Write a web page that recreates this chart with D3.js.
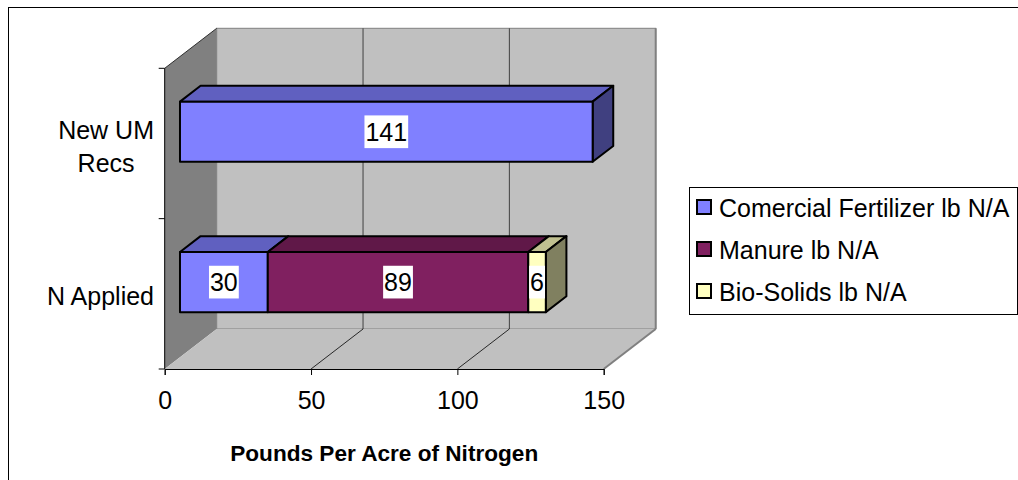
<!DOCTYPE html>
<html>
<head>
<meta charset="utf-8">
<script src="https://cdn.jsdelivr.net/npm/d3@7"></script>
<style>
  html, body { margin: 0; padding: 0; background: #fff; }
  svg { display: block; }
  text { font-family: "Liberation Sans", Arial, sans-serif; fill: #000; }
</style>
</head>
<body>
<svg id="chart" width="1018" height="480"></svg>
<script>
// Nitrogen applied vs. recommended, pounds per acre
const categories = ["New UM Recs", "N Applied"];
const categoryLines = [["New UM", "Recs"], ["N Applied"]];
const seriesNames = ["Comercial Fertilizer lb N/A", "Manure lb N/A", "Bio-Solids lb N/A"];
const fertilizer = [141, 30];
const manure = [0, 89];
const bioSolids = [0, 6];
const xTicks = [0, 50, 100, 150];
const axisTitle = "Pounds Per Acre of Nitrogen";

// front, top and side shades of each series
const frontColors = ["#8080FF", "#802060", "#FFFFC0"];
const topColors = ["#6060C0", "#601848", "#C0C090"];
const sideColors = ["#404080", "#401030", "#808060"];

const FONT = "25px";

const svg = d3.select("#chart");

// 3D geometry: front plane, and offset of the back plane
const DX = 52, DY = 40;
const front = { left: 164.7, right: 603.7, top: 68.3, bottom: 369 };
const dFront = 0.294, dBack = 0.69;   // depth extent of the bars

const x = d3.scaleLinear().domain([0, 150]).range([front.left, front.right]);
const y = d3.scaleBand().domain(categories).range([front.top, front.bottom]).padding(0);
const barH = y.bandwidth() * 0.4;

const pt = (px, py, d) => [px + DX * d, py - DY * d];
const poly = pts => pts.map(p => p.join(",")).join(" ");

// outer frame
svg.append("rect").attr("x", 8.5).attr("y", 7.5).attr("width", 1040).attr("height", 500)
  .attr("fill", "#fff").attr("stroke", "#000").attr("stroke-width", 1);

// back wall
svg.append("rect")
  .attr("x", front.left + DX).attr("y", front.top - DY)
  .attr("width", x(150) - x(0)).attr("height", front.bottom - front.top)
  .attr("fill", "#C0C0C0").attr("stroke", "#808080").attr("stroke-width", 1);
svg.append("line")
  .attr("x1", x(150) + DX).attr("x2", x(150) + DX)
  .attr("y1", front.top - DY).attr("y2", front.bottom - DY)
  .attr("stroke", "#808080").attr("stroke-width", 2);

// left wall
svg.append("polygon")
  .attr("points", poly([[front.left, front.top], pt(front.left, front.top, 1),
                        pt(front.left, front.bottom, 1), [front.left, front.bottom]]))
  .attr("fill", "#808080");
svg.append("line")
  .attr("x1", front.left).attr("y1", front.top)
  .attr("x2", front.left + DX).attr("y2", front.top - DY)
  .attr("stroke", "#303030").attr("stroke-width", 1);

// floor
svg.append("polygon")
  .attr("points", poly([[x(0), front.bottom], [x(150), front.bottom],
                        pt(x(150), front.bottom, 1), pt(x(0), front.bottom, 1)]))
  .attr("fill", "#C0C0C0");
svg.append("line")
  .attr("x1", x(150)).attr("y1", front.bottom)
  .attr("x2", x(150) + DX).attr("y2", front.bottom - DY)
  .attr("stroke", "#808080").attr("stroke-width", 2);

// gridlines on the back wall and the floor
const inner = xTicks.filter(t => t > 0 && t < 150);
svg.selectAll("line.gridWall").data(inner).join("line")
  .attr("class", "gridWall")
  .attr("x1", d => x(d) + DX).attr("x2", d => x(d) + DX)
  .attr("y1", front.top - DY).attr("y2", front.bottom - DY)
  .attr("stroke", "#404040").attr("stroke-width", 1);
svg.selectAll("line.gridFloor").data(inner).join("line")
  .attr("class", "gridFloor")
  .attr("x1", d => x(d)).attr("y1", front.bottom)
  .attr("x2", d => x(d) + DX).attr("y2", front.bottom - DY)
  .attr("stroke", "#000").attr("stroke-width", 0.8);

// axes
const xAxis = svg.append("g").attr("transform", `translate(0,${front.bottom})`)
  .call(d3.axisBottom(x).tickValues(xTicks).tickSize(6).tickPadding(16).tickFormat(d3.format("d")));
xAxis.select(".domain").attr("stroke", "#000");
xAxis.selectAll(".tick line").attr("stroke", "#000");
xAxis.selectAll(".tick text").style("font-size", FONT).attr("fill", "#000")
  .style("font-family", "'Liberation Sans', Arial, sans-serif");

const yTickPos = [front.top, ...categories.slice(1).map(c => y(c)), front.bottom];
svg.append("line").attr("x1", front.left).attr("x2", front.left)
  .attr("y1", front.top).attr("y2", front.bottom).attr("stroke", "#000");
svg.selectAll("line.yTick").data(yTickPos).join("line")
  .attr("class", "yTick")
  .attr("x1", front.left - 6).attr("x2", front.left)
  .attr("y1", d => d).attr("y2", d => d).attr("stroke", "#000");

// category labels, block right-aligned, lines centred within the block
categories.forEach((c, i) => {
  const lines = categoryLines[i];
  const g = svg.append("g");
  const lh = 32.7;
  const cy = y(c) + y.bandwidth() / 2 + (i === 0 ? 3 : 2.5);
  const t = g.selectAll("text").data(lines).join("text")
    .attr("y", (d, k) => cy + (k - (lines.length - 1) / 2) * lh)
    .attr("dy", "0.35em")
    .attr("text-anchor", "middle")
    .style("font-size", FONT)
    .text(d => d);
  const maxW = d3.max(t.nodes(), n => n.getComputedTextLength());
  t.attr("x", 154 - maxW / 2);
});

// stacked 3D bars
const series = [fertilizer, manure, bioSolids];
const barData = categories.map((c, ci) => {
  let acc = 0;
  const segs = [];
  series.forEach((s, si) => {
    const v = s[ci];
    if (v > 0) segs.push({ cat: c, si, v, x0: acc, x1: acc + v });
    acc += v;
  });
  return segs;
});

const bars = svg.append("g");
barData.forEach(segs => {
  segs.forEach((s, k) => {
    const yT = y(s.cat) + (y.bandwidth() - barH) / 2;
    const yB = yT + barH;
    const fx0 = x(s.x0), fx1 = x(s.x1);
    const F = (px, py) => pt(px, py, dFront);
    const B = (px, py) => pt(px, py, dBack);
    const g = bars.append("g").attr("stroke", "#000").attr("stroke-width", 2)
      .attr("stroke-linejoin", "round");
    g.append("polygon").attr("fill", topColors[s.si])
      .attr("points", poly([F(fx0, yT), B(fx0, yT), B(fx1, yT), F(fx1, yT)]));
    if (k === segs.length - 1) {
      g.append("polygon").attr("fill", sideColors[s.si])
        .attr("points", poly([F(fx1, yT), B(fx1, yT), B(fx1, yB), F(fx1, yB)]));
    }
    const p0 = F(fx0, yT);
    const p1 = F(fx1, yB);
    g.append("rect").attr("fill", frontColors[s.si])
      .attr("x", p0[0]).attr("y", p0[1])
      .attr("width", p1[0] - p0[0]).attr("height", p1[1] - p0[1]);
    s.cx = (p0[0] + p1[0]) / 2;
    s.cy = (p0[1] + p1[1]) / 2;
  });
});

// value labels on white boxes
const labels = svg.append("g");
barData.flat().forEach(s => {
  const g = labels.append("g");
  const box = g.append("rect").attr("fill", "#fff");
  const t = g.append("text")
    .attr("x", s.cx).attr("y", s.cy + 0.5).attr("dy", "0.35em")
    .attr("text-anchor", "middle").style("font-size", FONT)
    .text(s.v);
  const w = t.node().getComputedTextLength() + 2;
  box.attr("x", s.cx - w / 2).attr("y", s.cy - 16.3).attr("width", w).attr("height", 32.7);
});

// axis title
svg.append("text")
  .attr("x", (x(0) + x(150)) / 2).attr("y", 460.5)
  .attr("text-anchor", "middle")
  .style("font-size", "22.6px").style("font-weight", "bold")
  .text(axisTitle);

// legend
const legend = svg.append("g");
legend.append("rect").attr("x", 689.5).attr("y", 187.5).attr("width", 328).attr("height", 127)
  .attr("fill", "#fff").attr("stroke", "#000").attr("stroke-width", 1);
const legendY = d3.scalePoint().domain(seriesNames).range([217, 301]);
const items = legend.selectAll("g.item").data(seriesNames).join("g").attr("class", "item");
items.append("rect")
  .attr("x", 697).attr("y", d => legendY(d) - 17)
  .attr("width", 14).attr("height", 14)
  .attr("fill", (d, i) => frontColors[i]).attr("stroke", "#000").attr("stroke-width", 2);
items.append("text")
  .attr("x", 719).attr("y", d => legendY(d))
  .style("font-size", FONT)
  .text(d => d);
</script>
</body>
</html>
